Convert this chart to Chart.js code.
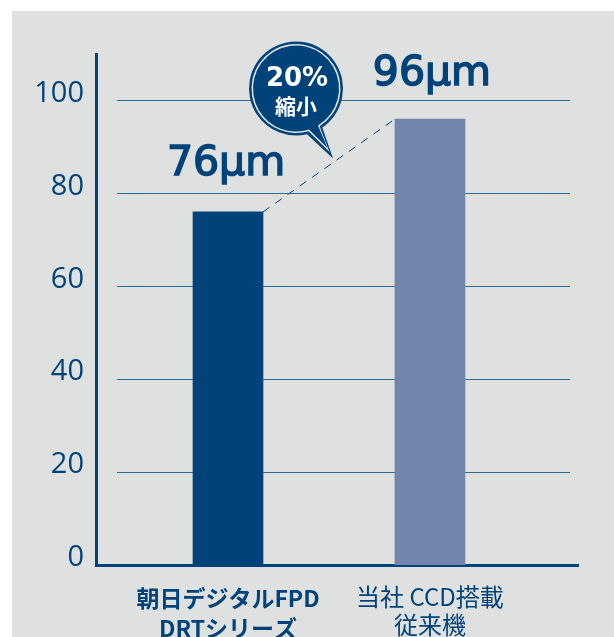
<!DOCTYPE html>
<html>
<head>
<meta charset="utf-8">
<script src="https://cdn.jsdelivr.net/npm/chart.js@4"></script>
<style>
  html, body { margin: 0; padding: 0; background: #fff; overflow: hidden; }
  #panel { position: absolute; left: 12px; top: 11px; width: 602px; height: 626px; background: #dfe0e0; }
  #wrap { position: absolute; left: 0; top: 0; width: 614px; height: 637px; }
</style>
</head>
<body>
<div id="panel"></div>
<div id="wrap"><canvas id="chart" width="614" height="637"></canvas></div>
<script>
const categories = [['朝日デジタルFPD', 'DRTシリーズ'], ['当社 CCD搭載', '従来機']];
const values = [76, 96];
const valueLabels = ['76µm', '96µm'];
const barColors = ['#00437a', '#7285ad'];
const yTicks = [0, 20, 40, 60, 80, 100];

const navy = '#00437a';
const jpFont = '"Noto Sans CJK JP", "Noto Sans", sans-serif';

const overlay = {
    id: 'overlay',
    // gridlines stop short of the axes, so they are drawn by hand
    beforeDatasetsDraw(chart) {
        const { ctx, scales: { y } } = chart;
        ctx.save();
        ctx.strokeStyle = '#2f6796';
        ctx.lineWidth = 1;
        yTicks.slice(1).forEach(v => {
            const py = Math.round(y.getPixelForValue(v)) + 0.5;
            ctx.beginPath();
            ctx.moveTo(117, py);
            ctx.lineTo(570, py);
            ctx.stroke();
        });
        ctx.restore();
    },
    afterDatasetsDraw(chart) {
        const { ctx, scales: { x, y } } = chart;
        const halfBar = 35;
        ctx.save();

        // dashed link between the bar tops
        ctx.strokeStyle = navy;
        ctx.lineWidth = 1;
        ctx.setLineDash([8, 7]);
        ctx.beginPath();
        ctx.moveTo(x.getPixelForValue(1) + halfBar, y.getPixelForValue(values[0]));
        ctx.lineTo(x.getPixelForValue(2) - halfBar, y.getPixelForValue(values[1]));
        ctx.stroke();
        ctx.setLineDash([]);

        // value labels above the bars
        ctx.fillStyle = navy;
        ctx.strokeStyle = navy;
        ctx.lineWidth = 1.5;
        ctx.textAlign = 'center';
        ctx.textBaseline = 'alphabetic';
        ctx.font = '41px "DejaVu Sans"';
        valueLabels.forEach((t, i) => {
            const px = x.getPixelForValue(i + 1) - 2 + i * 4;
            const py = y.getPixelForValue(values[i]) - 36.5 + i * 2;
            ctx.fillText(t, px, py);
            ctx.strokeText(t, px, py);
        });

        // speech bubble
        const bubble = (r, tip, left, right, fill) => {
            const a1 = Math.atan2(left[1] - 88.5, left[0] - 296);
            const a2 = Math.atan2(right[1] - 88.5, right[0] - 296);
            ctx.beginPath();
            ctx.arc(296, 88.5, r, a2, a1, true);
            ctx.lineTo(tip[0], tip[1]);
            ctx.closePath();
            ctx.fillStyle = fill;
            ctx.fill();
        };
        bubble(47, [333, 158.5], [307, 134], [322, 127], navy);
        bubble(44.5, [329.5, 152], [308.5, 131], [319.5, 126], '#dfe0e0');
        bubble(43, [327.5, 148], [309, 129.5], [318, 125.5], navy);

        ctx.fillStyle = '#fff';
        ctx.font = 'bold 26px "DejaVu Sans"';
        ctx.fillText('20%', 297, 86);
        ctx.font = 'bold 21px ' + jpFont;
        ctx.fillText('縮小', 296, 114);
        ctx.restore();
    }
};

new Chart(document.getElementById('chart').getContext('2d'), {
    type: 'bar',
    data: {
        datasets: [{
            data: values.map((v, i) => ({ x: i + 1, y: v })),
            backgroundColor: barColors,
            barThickness: 70
        }]
    },
    options: {
        responsive: false,
        animation: false,
        layout: { padding: { top: 54, right: 36, left: 0, bottom: 0 } },
        plugins: { legend: { display: false }, tooltip: { enabled: false } },
        scales: {
            x: {
                type: 'linear',
                offset: false,
                min: 0.3465,
                max: 2.733,
                afterBuildTicks: s => { s.ticks = categories.map((c, i) => ({ value: i + 1 })); },
                afterFit: s => { s.height = 72; },
                grid: { display: false, drawTicks: false },
                border: { color: navy, width: 3 },
                ticks: {
                    autoSkip: false,
                    maxRotation: 0,
                    padding: 18,
                    color: navy,
                    font: ctx => ctx.index === 0
                        ? { family: jpFont, size: 23, weight: 'bold', lineHeight: 1.3 }
                        : { family: jpFont, size: 24, weight: 'normal', lineHeight: 1.17 },
                    callback: v => categories[v - 1]
                }
            },
            y: {
                min: 0,
                max: 110,
                afterBuildTicks: s => { s.ticks = yTicks.map(v => ({ value: v })); },
                afterFit: s => { s.width = 96; },
                grid: { display: false, drawTicks: false },
                border: { color: navy, width: 3 },
                ticks: {
                    padding: 12,
                    color: navy,
                    font: { family: '"Open Sans"', size: 29, lineHeight: '14px' },
                    // blank second line lifts the number above its gridline
                    callback: v => [String(v), '']
                }
            }
        }
    },
    plugins: [overlay]
});
</script>
</body>
</html>
